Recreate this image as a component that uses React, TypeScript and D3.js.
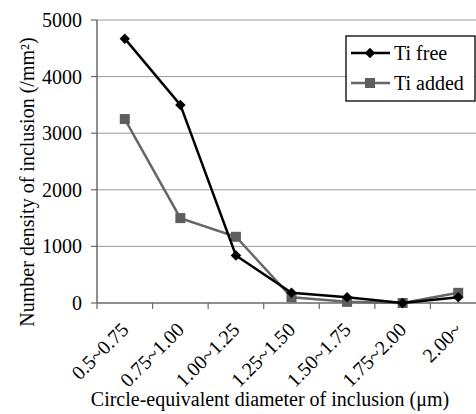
import React from "react";
import * as d3 from "d3";

const categories = ["0.5~0.75", "0.75~1.00", "1.00~1.25", "1.25~1.50", "1.50~1.75", "1.75~2.00", "2.00~"];
const tiFree = [4670, 3500, 840, 180, 100, 0, 100];
const tiAdded = [3250, 1500, 1170, 100, 20, 0, 180];
const yTicks = [0, 1000, 2000, 3000, 4000, 5000];

const fontStack = "'Times New Roman', 'Liberation Serif', Tinos, serif";
const txt = { fontFamily: fontStack, fontSize: "20px", fill: "#000" };

function App() {
  const left = 97, right = 486, top = 20, bottom = 303;
  const x = d3.scaleBand().domain(categories).range([left, right]);
  const y = d3.scaleLinear().domain([0, 5000]).range([bottom, top]);
  const cx = (i: number) => (x(categories[i]) as number) + x.bandwidth() / 2;
  const line = d3.line<number>().x((d, i) => cx(i)).y(d => y(d));
  const diamond = d3.symbol().type(d3.symbolDiamond2).size(70)() as string;

  React.useEffect(() => {
    document.body.style.margin = "0";
  }, []);

  return (
    <svg width={476} height={414} fontFamily={fontStack} fontSize={20}
      style={{ display: "block", background: "#fff", fontFamily: fontStack }}>
      {/* gridlines */}
      {yTicks.filter(t => t > 0).map(t => (
        <line key={t} x1={left} x2={right} y1={y(t)} y2={y(t)} stroke="#9a9a9a" strokeWidth={1} />
      ))}
      {/* y axis */}
      <line x1={left} x2={left} y1={top} y2={bottom} stroke="#6a6a6a" strokeWidth={1.5} />
      {yTicks.map(t => (
        <g key={t}>
          <line x1={left - 6} x2={left} y1={y(t)} y2={y(t)} stroke="#6a6a6a" strokeWidth={1.2} />
          <text x={left - 15} y={y(t) + 7} textAnchor="end" style={txt}>{t}</text>
        </g>
      ))}
      {/* x axis */}
      <line x1={left} x2={right} y1={bottom} y2={bottom} stroke="#6a6a6a" strokeWidth={1.5} />
      {categories.map((c, i) => (
        <g key={c}>
          <line x1={x(c)} x2={x(c)} y1={bottom} y2={bottom + 6} stroke="#6a6a6a" strokeWidth={1.2} />
          <text transform={`translate(${cx(i) + 5},${bottom + 28}) rotate(-45)`} textAnchor="end" style={txt}>{c}</text>
        </g>
      ))}
      {/* Ti added */}
      <path d={line(tiAdded) as string} fill="none" stroke="#666" strokeWidth={2.5} />
      {tiAdded.map((v, i) => (
        <rect key={i} x={cx(i) - 5} y={y(v) - 5} width={10} height={10} fill="#5e5e5e" />
      ))}
      {/* Ti free */}
      <path d={line(tiFree) as string} fill="none" stroke="#000" strokeWidth={2.5} />
      {tiFree.map((v, i) => (
        <path key={i} d={diamond} transform={`translate(${cx(i)},${y(v)})`} fill="#000" />
      ))}
      {/* legend */}
      <rect x={346} y={36} width={129} height={65} fill="#fff" stroke="#000" strokeWidth={1.3} />
      <line x1={351} x2={390} y1={53} y2={53} stroke="#000" strokeWidth={2.5} />
      <path d={diamond} transform="translate(370,53)" fill="#000" />
      <text x={394} y={60} style={txt}>Ti free</text>
      <line x1={351} x2={390} y1={83} y2={83} stroke="#666" strokeWidth={2.5} />
      <rect x={365} y={78} width={10} height={10} fill="#5e5e5e" />
      <text x={394} y={90} style={txt}>Ti added</text>
      {/* titles */}
      <text transform="translate(34,182) rotate(-90)" textAnchor="middle" style={txt}>
        Number density of inclusion (/mm²)
      </text>
      <text x={270} y={406} textAnchor="middle" style={txt}>
        Circle-equivalent diameter of inclusion (μm)
      </text>
    </svg>
  );
}

export default App;
